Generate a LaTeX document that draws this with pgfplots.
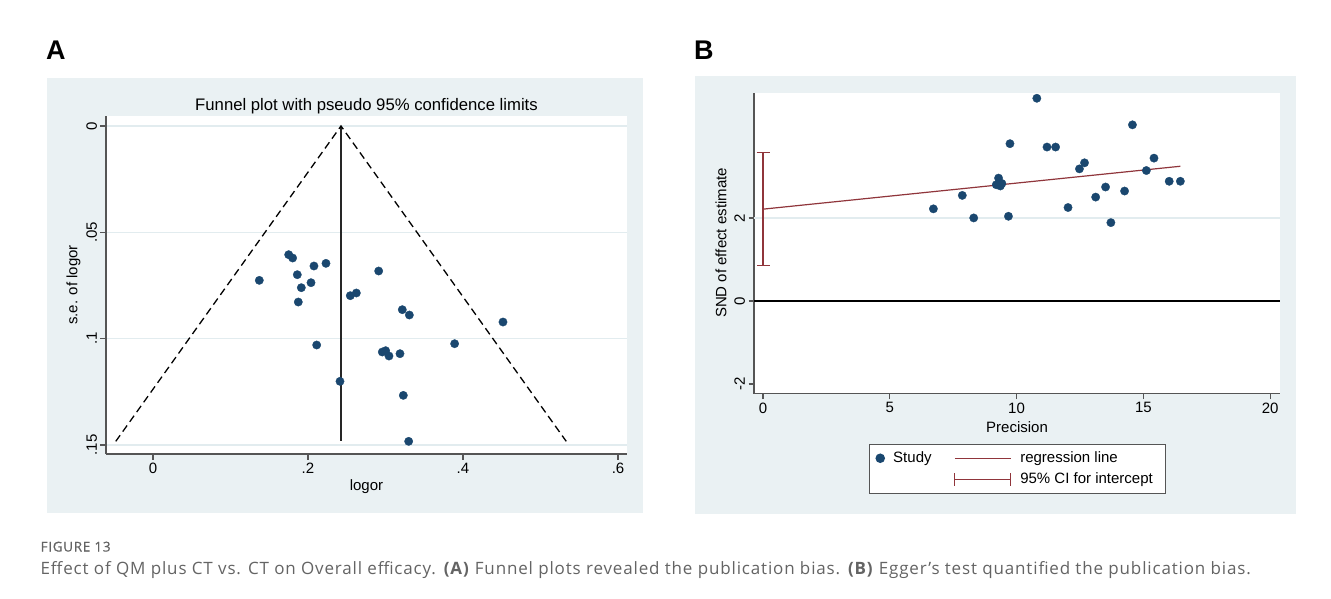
\documentclass[border=0pt]{standalone}
\usepackage{fontspec}
\setmainfont{Liberation Sans}
\newfontfamily\capfont{Open Sans}[LetterSpace=5]
\newfontfamily\capfontb{Open Sans}[LetterSpace=5, FakeBold=0.6]
\usepackage{pgfplots}
\usepackage{pgfplotstable}
\pgfplotsset{compat=1.18}
\definecolor{bgc}{RGB}{234,241,243}
\definecolor{gridc}{RGB}{226,236,239}
\definecolor{navyc}{RGB}{26,71,111}
\definecolor{maroonc}{RGB}{144,53,59}
\definecolor{axc}{RGB}{85,85,85}
\definecolor{capc}{RGB}{100,100,100}

% Panel A: log odds ratio and its standard error
\pgfplotstableread{
logor se
0.1372 0.07256
0.1751 0.06049
0.1802 0.06206
0.1862 0.06990
0.1914 0.07601
0.1875 0.08275
0.2039 0.07366
0.2077 0.06582
0.2232 0.06457
0.2112 0.10296
0.2413 0.12004
0.2546 0.07977
0.2624 0.07851
0.2912 0.06817
0.3217 0.08635
0.3308 0.08886
0.2959 0.10625
0.3002 0.10563
0.3045 0.10813
0.3187 0.10704
0.3230 0.12663
0.3299 0.14825
0.3892 0.10234
0.4516 0.09215
}\funneldata

% Panel B: precision and standardized normal deviate
\pgfplotstableread{
prec snd
13.72 1.887
16.46 2.883
16.02 2.883
14.26 2.648
13.12 2.502
12.03 2.251
13.51 2.745
15.12 3.142
15.42 3.441
9.68 2.040
8.31 2.000
12.48 3.182
12.68 3.328
14.57 4.243
11.54 3.708
11.20 3.708
9.36 2.770
9.42 2.830
9.20 2.800
9.29 2.960
7.86 2.543
6.72 2.219
9.74 3.789
10.80 4.883
}\eggerdata

\pgfplotsset{
  stata/.style={
    scale only axis,
    axis x line*=bottom, axis y line*=left,
    axis line style={axc, line width=1.4pt, -},
    tick align=outside,
    major tick length=5.5pt,
    tick style={axc, line width=1.2pt},
    tick label style={font=\fontsize{15}{18}\selectfont, text=black},
    yticklabel style={rotate=90, anchor=south},
    /pgf/number format/assume math mode=true,
    axis background/.style={fill=white},
    major grid style={gridc, line width=1.3pt},
    clip=false,
  },
  legdot/.style={legend image code/.code={\path[draw=none, fill=none] (-3.5pt,-7pt) rectangle (13pt,7pt); \draw[##1] plot coordinates {(0pt,0pt)};}},
  legline/.style={legend image code/.code={\path[draw=none, fill=none] (0pt,-7pt) rectangle (65.5pt,7pt); \draw[##1] (0pt,0pt) -- (56pt,0pt);}},
  legcap/.style={legend image code/.code={\path[draw=none, fill=none] (0pt,-7pt) rectangle (65.5pt,7pt); \draw[##1] (0pt,0pt) -- (56pt,0pt) (0pt,-6.4pt) -- (0pt,6.4pt) (56pt,-6.4pt) -- (56pt,6.4pt);}},
}

\begin{document}
\begin{tikzpicture}
\path[use as bounding box] (0pt,0pt) rectangle (1331pt,-599pt);
\fill[white] (0pt,0pt) rectangle (1331pt,-599pt);
% panel backgrounds
\fill[bgc] (47pt,-78pt) rectangle (643pt,-513pt);
\fill[bgc] (695pt,-76pt) rectangle (1296pt,-514pt);

% ---------------- Panel A ----------------
\begin{axis}[stata,
  at={(366.5pt,-285pt)}, anchor=center,
  width=521pt, height=338pt,
  xmin=-0.0606, xmax=0.6116, ymin=-0.0047, ymax=0.1542, y dir=reverse,
  xtick={0,0.2,0.4,0.6}, xticklabels={0,.2,.4,.6},
  ytick={0,0.05,0.1,0.15}, yticklabels={0,.05,.1,.15},
  ymajorgrids,
]
\addplot[black!85, line width=2pt] coordinates {(0.2426,0) (0.2426,0.14825)};
\addplot[black, line width=1.3pt, dash pattern=on 7.5pt off 4.5pt] coordinates {(-0.0480,0.14825) (0.2426,0) (0.5332,0.14825)};
\addplot[only marks, mark=*, mark size=4.2pt, mark options={fill=navyc, draw=navyc, line width=0.3pt}] table[x=logor, y=se] {\funneldata};
\end{axis}

% ---------------- Panel B ----------------
\begin{axis}[stata,
  at={(1017pt,-243.25pt)}, anchor=center,
  width=526pt, height=300.5pt,
  xmin=-0.355, xmax=20.39, ymin=-2.23, ymax=5.01,
  xtick={0,5,10,15,20}, xticklabels={0,5,10,15,20},
  ytick={-2,0}, yticklabels={-2,0},
  extra y ticks={2}, extra y tick labels={2},
  extra y tick style={grid=major, major grid style={gridc, line width=1.3pt}},
  legend columns=2,
  legend cell align=left,
  legend style={at={(0.2186,-0.1664)}, anchor=north west, draw=axc, line width=1.1pt, fill=white,
    font=\fontsize{15}{18}\selectfont, inner xsep=6.5pt, inner ysep=7.2pt,
    nodes={inner sep=0pt, text height=11pt, text depth=3pt},
    row sep=7.2pt, column sep=0pt,
    /tikz/every even column/.append style={column sep=22.6pt}},
]
\addplot[black, line width=1.5pt, forget plot] coordinates {(-0.355,0) (20.39,0)};
\addplot[maroonc, line width=1.2pt, forget plot] coordinates {(0,2.2115) (16.46,3.245)};
\addplot[maroonc, line width=1.2pt, mark=none, forget plot,
  error bars/.cd, y dir=both, y explicit,
  error bar style={maroonc, line width=1.2pt},
  error mark options={maroonc, mark size=6.5pt, line width=1.2pt, rotate=90}]
  coordinates {(0,2.2115) +- (0,1.3575)};
\addplot[only marks, mark=*, mark size=4.2pt, mark options={fill=navyc, draw=navyc, line width=0.3pt}, forget plot] table[x=prec, y=snd] {\eggerdata};

\addlegendimage{only marks, mark=*, mark size=4.2pt, mark options={fill=navyc, draw=navyc}, legdot}
\addlegendentry{Study}
\addlegendimage{maroonc, line width=1.2pt, legline}
\addlegendentry{regression line}
\addlegendimage{empty legend}
\addlegendentry{}
\addlegendimage{maroonc, line width=1.2pt, legcap}
\addlegendentry{95\% CI for intercept\hspace*{6.5pt}}
\end{axis}

% labels
\node[font=\fontsize{16.7}{20}\selectfont] at (366.5pt,-106.5pt) {Funnel plot with pseudo 95\% confidence limits};
\node[font=\fontsize{15}{18}\selectfont] at (366.5pt,-487pt) {logor};
\node[font=\fontsize{15}{18}\selectfont, rotate=90] at (73.6pt,-285pt) {s.e. of logor};
\node[font=\fontsize{15}{18}\selectfont] at (1017pt,-427.3pt) {Precision};
\node[font=\fontsize{15}{18}\selectfont, rotate=90] at (721pt,-243pt) {SND of effect estimate};

\node[anchor=base west, inner sep=0pt, font=\bfseries\fontsize{27}{30}\selectfont] at (46pt,-60pt) {A};
\node[anchor=base west, inner sep=0pt, font=\bfseries\fontsize{27}{30}\selectfont] at (694pt,-60pt) {B};

\node[anchor=base west, inner sep=0pt, text=capc, font=\capfontb\fontsize{13.5}{15}\selectfont] at (40.5pt,-551.5pt) {FIGURE 13};
\node[anchor=base west, inner sep=0pt, text=capc, font=\capfont\fontsize{17}{20}\selectfont] at (40.5pt,-574pt) {Effect of QM plus CT vs. CT on Overall efficacy. \textbf{(A)} Funnel plots revealed the publication bias. \textbf{(B)} Egger’s test quantified the publication bias.};
\end{tikzpicture}
\end{document}
